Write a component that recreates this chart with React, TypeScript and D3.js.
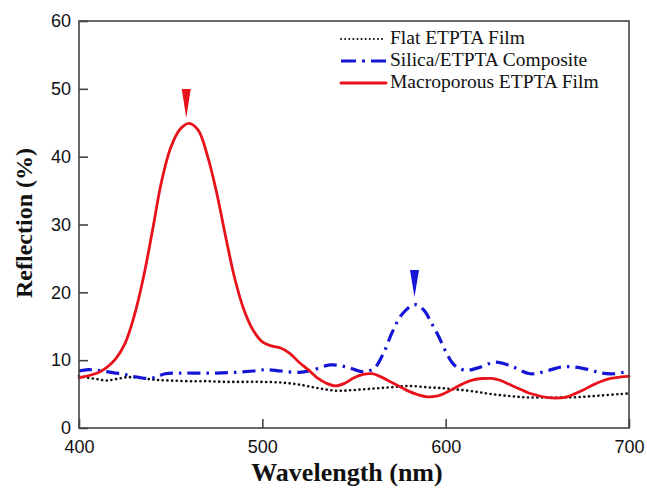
import React, { useRef, useEffect } from 'react';
import * as d3 from 'd3';

const W = 647;
const H = 489;

// wavelength (nm) / reflection (%)
const flatWl = [400, 405, 410, 415, 420, 427, 435, 442, 450, 460, 470, 480, 490, 500, 510, 520, 530, 540, 550, 560, 570, 580, 590, 597, 605, 615, 625, 635, 645, 655, 665, 675, 685, 695, 700];
const flatVal = [7.7, 7.4, 7.2, 7.0, 7.2, 7.5, 7.3, 7.1, 7.0, 6.9, 6.9, 6.8, 6.8, 6.8, 6.7, 6.4, 5.9, 5.5, 5.6, 5.8, 6.0, 6.2, 6.0, 5.9, 5.7, 5.4, 5.0, 4.7, 4.5, 4.5, 4.5, 4.6, 4.8, 5.0, 5.1];

const silicaWl = [400, 405, 410, 415, 420, 425, 430, 437, 442, 447, 455, 465, 475, 485, 495, 502, 510, 520, 527, 537, 546, 555, 561, 566, 571, 576, 583, 588, 592, 596, 600, 605, 611, 618, 627, 636, 646, 655, 663, 670, 678, 685, 692, 700];
const silicaVal = [8.4, 8.6, 8.5, 8.3, 8.1, 7.9, 7.6, 7.3, 7.5, 8.0, 8.1, 8.1, 8.1, 8.2, 8.4, 8.6, 8.4, 8.2, 8.5, 9.3, 9.0, 8.3, 8.8, 11.0, 14.2, 16.7, 18.2, 17.4, 15.6, 13.6, 11.3, 9.2, 8.5, 8.9, 9.7, 9.1, 8.0, 8.4, 9.0, 9.0, 8.6, 8.1, 8.0, 8.4];

const macroWl = [400, 410, 415, 420, 425, 430, 435, 440, 445, 450, 455, 460, 465, 470, 475, 480, 485, 490, 495, 500, 505, 510, 515, 520, 525, 530, 535, 540, 545, 550, 555, 560, 565, 570, 575, 580, 585, 590, 595, 600, 605, 610, 615, 620, 625, 630, 635, 640, 645, 650, 655, 660, 665, 670, 675, 680, 685, 690, 695, 700];
const macroVal = [7.4, 8.1, 8.9, 10.2, 12.4, 16.4, 22.0, 29.0, 36.3, 41.3, 44.0, 44.9, 43.9, 40.2, 34.8, 28.2, 22.0, 17.4, 14.4, 12.7, 12.1, 11.8, 11.0, 9.7, 8.6, 7.4, 6.6, 6.2, 6.6, 7.4, 7.9, 8.0, 7.5, 6.8, 6.1, 5.4, 4.9, 4.6, 4.7, 5.2, 5.9, 6.6, 7.1, 7.3, 7.3, 7.0, 6.4, 5.8, 5.2, 4.8, 4.5, 4.4, 4.5, 5.0, 5.6, 6.3, 6.9, 7.3, 7.5, 7.6];

const seriesNames = ['Flat ETPTA Film', 'Silica/ETPTA Composite', 'Macroporous ETPTA Film'];
const yTicks = [0, 10, 20, 30, 40, 50, 60];
const xTicks = [400, 500, 600, 700];

// arrow heads pointing at the two peaks: [wavelength, reflection at tip]
const peakMarks = [
  [458.5, 45.7],
  [583, 19.3],
];

const RED = '#e8121b';
const BLUE = '#1515d6';

const App = () => {
  const svgRef = useRef(null);

  useEffect(() => {
    const svg = d3.select(svgRef.current);
    svg.selectAll('*').remove();

    const x = d3.scaleLinear().domain([400, 700]).range([79, 629]);
    const y = d3.scaleLinear().domain([0, 60]).range([428, 21]);

    const line = d3.line()
      .x(d => x(d[0]))
      .y(d => y(d[1]))
      .curve(d3.curveCatmullRom.alpha(0.5));

    const flat = flatWl.map((w, i) => [w, flatVal[i]]);
    const silica = silicaWl.map((w, i) => [w, silicaVal[i]]);
    const macro = macroWl.map((w, i) => [w, macroVal[i]]);

    const styles = [
      { color: '#111', width: 2.6, dash: '0.1 4.6', cap: 'round' },
      { color: BLUE, width: 3.2, dash: '13 6 2.5 6', cap: 'butt' },
      { color: RED, width: 2.8, dash: null, cap: 'round' },
    ];

    const g = svg.append('g');

    [flat, silica, macro].forEach((data, i) => {
      const s = styles[i];
      g.append('path')
        .datum(data)
        .attr('d', line)
        .attr('fill', 'none')
        .attr('stroke', s.color)
        .attr('stroke-width', s.width)
        .attr('stroke-linecap', s.cap)
        .attr('stroke-dasharray', s.dash);
    });

    // peak arrows
    peakMarks.forEach((p, i) => {
      const tx = x(p[0]);
      const ty = y(p[1]);
      const h = i === 0 ? 29 : 27;
      g.append('path')
        .attr('d', `M${tx - 4.5},${ty - h} L${tx + 4.5},${ty - h} L${tx},${ty} Z`)
        .attr('fill', i === 0 ? RED : BLUE);
    });

    // frame
    svg.append('rect')
      .attr('x', 79).attr('y', 21)
      .attr('width', 550).attr('height', 407)
      .attr('fill', 'none')
      .attr('stroke', '#444')
      .attr('stroke-width', 1.6);

    const yAxis = d3.axisLeft(y).tickValues(yTicks).tickSize(-9).tickPadding(8).tickFormat(d3.format('d'));
    const ya = svg.append('g').attr('transform', 'translate(79,0)').call(yAxis);
    ya.select('.domain').remove();
    ya.selectAll('line').attr('stroke', '#444').attr('stroke-width', 1.6);
    ya.selectAll('text')
      .attr('font-family', 'Liberation Sans, Arial, sans-serif')
      .attr('font-size', 18)
      .attr('fill', '#111');

    const xAxis = d3.axisBottom(x).tickValues(xTicks).tickSize(-9).tickPadding(12).tickFormat(d3.format('d'));
    const xa = svg.append('g').attr('transform', 'translate(0,428)').call(xAxis);
    xa.select('.domain').remove();
    xa.selectAll('line').attr('stroke', '#444').attr('stroke-width', 1.6);
    xa.selectAll('text')
      .attr('font-family', 'Liberation Sans, Arial, sans-serif')
      .attr('font-size', 18)
      .attr('fill', '#111');

    svg.append('text')
      .attr('transform', 'translate(32,223) rotate(-90)')
      .attr('text-anchor', 'middle')
      .attr('font-family', 'Liberation Serif, Times New Roman, serif')
      .attr('font-weight', 'bold')
      .attr('font-size', 24)
      .attr('fill', '#111')
      .text('Reflection (%)');

    svg.append('text')
      .attr('x', 347).attr('y', 481)
      .attr('text-anchor', 'middle')
      .attr('font-family', 'Liberation Serif, Times New Roman, serif')
      .attr('font-weight', 'bold')
      .attr('font-size', 26)
      .attr('fill', '#111')
      .text('Wavelength (nm)');

    // legend
    const leg = svg.append('g');
    seriesNames.forEach((name, i) => {
      const s = styles[i];
      const by = 44 + i * 22;
      leg.append('line')
        .attr('x1', 341).attr('x2', 386)
        .attr('y1', by - 5).attr('y2', by - 5)
        .attr('stroke', s.color)
        .attr('stroke-width', i === 0 ? 2 : 3)
        .attr('stroke-linecap', s.cap)
        .attr('stroke-dasharray', i === 0 ? '0.1 4' : i === 1 ? '15 6 3 6' : null);
      leg.append('text')
        .attr('x', 390).attr('y', by)
        .attr('font-family', 'Liberation Serif, Times New Roman, serif')
        .attr('font-size', 19.5)
        .attr('fill', '#111')
        .text(name);
    });
  }, []);

  return (
    <svg ref={svgRef} width={W} height={H} style={{ position: 'absolute', left: 0, top: 0, background: '#fff' }} />
  );
};

export default App;
